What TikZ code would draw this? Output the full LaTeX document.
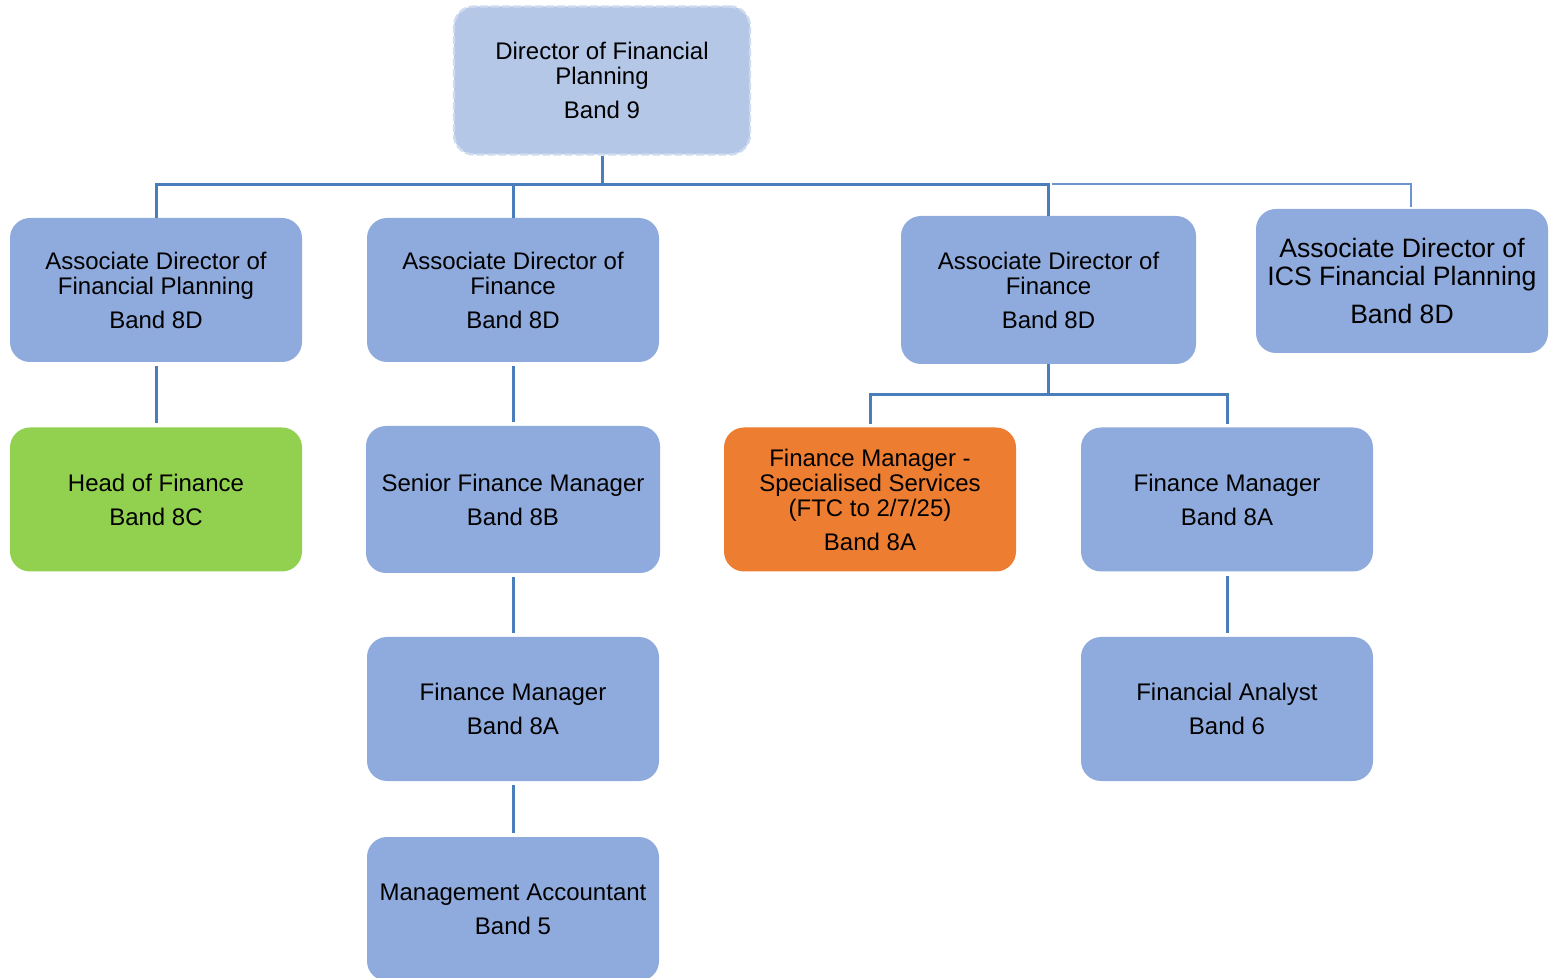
\documentclass[tikz,border=0pt]{standalone}
\usepackage{fontspec}
\setmainfont{Liberation Sans}
\definecolor{boxblue}{HTML}{8FAADC}
\definecolor{boxlight}{HTML}{B4C7E7}
\definecolor{boxgreen}{HTML}{92D050}
\definecolor{boxorange}{HTML}{ED7D31}
\definecolor{lineblue}{HTML}{4A7EBB}
\definecolor{thinblue}{HTML}{6A93CF}
\begin{document}
\begin{tikzpicture}[x=0.5pt,y=-0.5pt,
  box/.style={rectangle, rounded corners=10pt, fill=boxblue, minimum width=146pt, minimum height=72pt,
    align=center, inner sep=0pt, font=\fontsize{12}{12.5}\selectfont},
  dirbox/.style={box, fill=boxlight, draw=white!35!boxlight, line width=1.2pt, dash pattern=on 4pt off 1.5pt,
    minimum width=148pt, minimum height=74pt},
  conn/.style={draw=lineblue, line width=1.5pt},
  thinconn/.style={draw=thinblue, line width=0.8pt},
  gap/.style={shorten <=2pt, shorten >=2pt}]
\useasboundingbox (0,0) rectangle (1554,978);
\clip (0,0) rectangle (1554,978);

\node[dirbox] (dir) at (602,80.5) {Director of Financial\\Planning\\[4.5pt]Band 9};

\node[box] (adfp) at (156,290) {Associate Director of\\Financial Planning\\[4.5pt]Band 8D};
\node[box] (adf1) at (513,290) {Associate Director of\\Finance\\[4.5pt]Band 8D};
\node[box, minimum width=147.5pt, minimum height=74pt] (adf2) at (1048.5,290) {Associate Director of\\Finance\\[4.5pt]Band 8D};
\node[box, font=\fontsize{13.3}{14}\selectfont] (ics) at (1402,281) {Associate Director of\\ICS Financial Planning\\[5pt]Band 8D};

\node[box, fill=boxgreen] (hof) at (156,499.5) {Head of Finance\\[4.5pt]Band 8C};
\node[box, minimum width=147pt, minimum height=73.5pt] (sfm) at (513,499.5) {Senior Finance Manager\\[4.5pt]Band 8B};
\node[box, fill=boxorange] (fmss) at (870,499.5) {Finance Manager -\\Specialised Services\\(FTC to 2/7/25)\\[4.5pt]Band 8A};
\node[box] (fm) at (1227,499.5) {Finance Manager\\[4.5pt]Band 8A};

\node[box] (fm2) at (513,709) {Finance Manager\\[4.5pt]Band 8A};
\node[box] (fa) at (1227,709) {Financial Analyst\\[4.5pt]Band 6};
\node[box] (ma) at (513,909) {Management Accountant\\[4.5pt]Band 5};

% top bus
\coordinate (bus) at (0,185);
\draw[conn] (dir.south) -- (dir.south |- bus);
\draw[conn] (adfp.north) -- (adfp.north |- bus) -- (adf2.north |- bus) -- (adf2.north);
\draw[conn] (adf1.north) -- (adf1.north |- bus);
\coordinate (icsstart) at (1052,184);
\coordinate (icsdrop) at (1411,207);
\draw[thinconn] (icsstart) -| (icsdrop);

% vertical chains
\draw[conn, gap] (adfp.south) -- (hof.north);
\draw[conn, gap] (adf1.south) -- (sfm.north);
\draw[conn, gap] (sfm.south) -- (fm2.north);
\draw[conn, gap] (fm2.south) -- (ma.north);
\draw[conn, gap] (fm.south) -- (fa.north);

% ADF2 sub-bus
\coordinate (sub) at (0,395);
\draw[conn] (adf2.south) -- (adf2.south |- sub);
\draw[conn, shorten <=1.5pt] (fmss.north) -- (fmss.north |- sub) -- (fm.north |- sub) -- ([yshift=1.5pt]fm.north);
\end{tikzpicture}
\end{document}
